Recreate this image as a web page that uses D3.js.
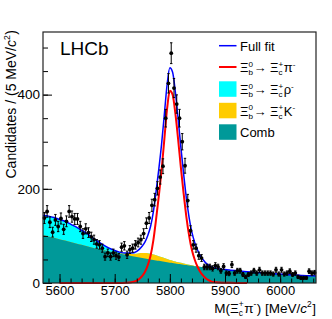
<!DOCTYPE html>
<html>
<head>
<meta charset="utf-8">
<script src="https://cdn.jsdelivr.net/npm/d3@7"></script>
<style>
  body { margin: 0; background: #fff; }
  text { font-family: "Liberation Sans", Arial, Helvetica, sans-serif; fill: #000; }
</style>
</head>
<body>
<div id="chart"></div>
<script>
// binned data, 5 MeV bins starting at 5570
const binStart = 5570;
const binWidth = 5;
const counts = [138,152,129,108,134,120,137,114,131,152,141,136,136,120,105,115,107,98,92,83,
  81,74,56,64,56,64,58,55,76,79,60,71,74,81,86,92,105,127,138,165,
  177,201,225,248,350,424,488,414,380,350,300,249,175,111,81,74,58,53,
  34,34,34,31,37,34,26,35,21,20,39,21,26,26,18,13,18,21,26,21,28,21,
  21,21,21,19,28,19,28,19,21,25,18,21,13,11,11,11,25,21,22];

// fit components, on a common mass grid
const fitMass = [5570,5580,5590,5600,5610,5620,5630,5640,5650,5660,5670,5680,5690,5700,5710,5720,5730,5740,
  5745,5750,5755,5760,5765,5770,5775,5780,5785,5790,5795,5800,5805,5810,5815,5820,5825,5830,5835,5840,
  5845,5850,5855,5860,5865,5870,5875,5880,
  5890,5900,5910,5920,5930,5940,5950,5960,5970,5980,5990,6000,6010,6020,6030,6040,6050,6065];
const combFit = [102,99,96,93,90,87,84,81,78,75,72,69.5,67,64.5,62,60,57.5,55,
  54,53,52,51,50,49,48,47,46,45,44,43,42.5,41.5,40.5,40,39,38,37,36.5,
  35.5,35,34,33.5,32.5,32,31,30.5,
  29,28,27,26,25,24,23,22,21,20.5,19.5,19,18,17.5,17,16,15.5,15];
const kFit = [0,0,0,0,0,0,0,0,0,0,0,0,0,0.5,1,2,4,7,
  9,10.5,11.5,12,12,11.5,11,10,9,8,7,6,5,4,3.5,3,2.5,2,1.5,1,
  0.8,0.6,0.4,0.3,0.2,0.1,0.1,0,
  0,0,0,0,0,0,0,0,0,0,0,0,0,0,0,0,0,0];
const rhoFit = [42,43,43,42,41,38,35,31,27,21,16,11,7,4,2,1,0.5,0.2,
  0,0,0,0,0,0,0,0,0,0,0,0,0,0,0,0,0,0,0,0,
  0,0,0,0,0,0,0,0,
  0,0,0,0,0,0,0,0,0,0,0,0,0,0,0,0,0,0];
const sigFit = [null,null,null,0,0,0,0,0,0,0,0,0,0,0,0,0.5,1.5,5,
  9,15,24,38,58,90,135,185,240,305,370,408,400,360,305,245,190,140,100,70,
  50,35,24,16,10,6,3.5,2,
  1,0.5,0.3,0.2,0.1,0.1,null,null,null,null,null,null,null,null,null,null,null,null];

const yTicks = [0, 200, 400];
const xTicks = [5600, 5700, 5800, 5900, 6000];

const legendItems = [
  { kind: "line", color: "#0000ff", parts: [{ t: "Full fit" }] },
  { kind: "line", color: "#ff0000", parts: [{ t: "Ξ" }, { sup: "0", sub: "b" }, { t: "→ Ξ" }, { sup: "+", sub: "c" }, { t: "π" }, { sup: "-" }] },
  { kind: "box", color: "#00ffff", parts: [{ t: "Ξ" }, { sup: "0", sub: "b" }, { t: "→ Ξ" }, { sup: "+", sub: "c" }, { t: "ρ" }, { sup: "-" }] },
  { kind: "box", color: "#ffcc00", parts: [{ t: "Ξ" }, { sup: "0", sub: "b" }, { t: "→ Ξ" }, { sup: "+", sub: "c" }, { t: "K" }, { sup: "-" }] },
  { kind: "box", color: "#009999", parts: [{ t: "Comb" }] }
];

const W = 332, H = 319;
const frame = { left: 43, right: 316, top: 32, bottom: 283 };

const svg = d3.select("#chart").append("svg")
  .attr("width", W)
  .attr("height", H);

const x = d3.scaleLinear().domain([5570, 6065]).range([frame.left, frame.right]);
const y = d3.scaleLinear().domain([0, 533]).range([frame.bottom, frame.top]);

// text with stacked super/subscripts, ROOT style
function rich(g, x0, y0, parts, size, anchor) {
  const t = g.append("text").style("font-size", size + "px");
  let cx = 0;
  parts.forEach(p => {
    if (p.t !== undefined) {
      const s = t.append("tspan").attr("x", cx).attr("y", y0).text(p.t);
      if (p.i) s.style("font-style", "italic");
      cx += s.node().getComputedTextLength();
    } else {
      let w = 0;
      if (p.sup) {
        const s = t.append("tspan").attr("x", cx).attr("y", y0 - size * 0.4)
          .style("font-size", (size * 0.62) + "px").text(p.sup);
        w = Math.max(w, s.node().getComputedTextLength());
      }
      if (p.sub) {
        const s = t.append("tspan").attr("x", cx).attr("y", y0 + size * 0.25)
          .style("font-size", (size * 0.62) + "px").text(p.sub);
        w = Math.max(w, s.node().getComputedTextLength());
      }
      cx += w + 0.5;
    }
  });
  const shift = anchor === "end" ? x0 - cx : x0;
  t.attr("transform", `translate(${shift},0)`);
  return t;
}

// stacked components
const grid = fitMass.map((m, i) => {
  const s = sigFit[i] == null ? 0 : sigFit[i];
  return {
    m: m,
    comb: combFit[i],
    k: combFit[i] + kFit[i],
    rho: combFit[i] + kFit[i] + rhoFit[i],
    sig: sigFit[i],
    total: combFit[i] + kFit[i] + rhoFit[i] + s
  };
});

const area = key => d3.area()
  .x(d => x(d.m))
  .y0(y(0))
  .y1(d => y(d[key]))
  .curve(d3.curveMonotoneX);

svg.append("path").datum(grid).attr("fill", "#00ffff").attr("d", area("rho"));
svg.append("path").datum(grid).attr("fill", "#ffcc00").attr("d", area("k"));
svg.append("path").datum(grid).attr("fill", "#009999").attr("d", area("comb"));

const sigLine = d3.line()
  .defined(d => d.sig != null)
  .x(d => x(d.m))
  .y(d => y(d.sig))
  .curve(d3.curveMonotoneX);

svg.append("path").datum(grid)
  .attr("fill", "none")
  .attr("stroke", "#ff0000")
  .attr("stroke-width", 2)
  .attr("d", sigLine);

const totLine = d3.line()
  .x(d => x(d.m))
  .y(d => y(d.total))
  .curve(d3.curveMonotoneX);

svg.append("path").datum(grid)
  .attr("fill", "none")
  .attr("stroke", "#0000ff")
  .attr("stroke-width", 1.5)
  .attr("d", totLine);

// data points with sqrt(N) errors
const pts = counts.map((n, i) => ({ m: binStart + binWidth * (i + 0.5), n: n }));
const pg = svg.append("g");
pts.forEach(d => {
  const cx = x(d.m), e = Math.sqrt(d.n);
  pg.append("line").attr("x1", cx).attr("x2", cx)
    .attr("y1", y(d.n - e)).attr("y2", y(d.n + e))
    .attr("stroke", "#000").attr("stroke-width", 1);
  [d.n - e, d.n + e].forEach(v => {
    pg.append("line").attr("x1", cx - 1.2).attr("x2", cx + 1.2)
      .attr("y1", y(v)).attr("y2", y(v))
      .attr("stroke", "#000").attr("stroke-width", 1);
  });
  pg.append("circle").attr("cx", cx).attr("cy", y(d.n)).attr("r", 1.9).attr("fill", "#000");
});

// axes, ticks pointing inside
svg.append("g")
  .attr("transform", `translate(0,${frame.bottom})`)
  .call(d3.axisBottom(x).tickValues(d3.range(5580, 6065, 20)).tickSize(-4.5).tickFormat(""))
  .call(g => g.select(".domain").remove());
const xa = svg.append("g")
  .attr("transform", `translate(0,${frame.bottom})`)
  .call(d3.axisBottom(x).tickValues(xTicks).tickSize(-9).tickPadding(3).tickFormat(d3.format("d")));
xa.select(".domain").remove();
xa.selectAll("text").style("font-size", "13px").style("font-family", "Liberation Sans, Arial, sans-serif");

svg.append("g")
  .attr("transform", `translate(${frame.left},0)`)
  .call(d3.axisLeft(y).tickValues(d3.range(50, 533, 50)).tickSize(-5).tickFormat(""))
  .call(g => g.select(".domain").remove());
const ya = svg.append("g")
  .attr("transform", `translate(${frame.left},0)`)
  .call(d3.axisLeft(y).tickValues(yTicks).tickSize(-9).tickPadding(3).tickFormat(d3.format("d")));
ya.select(".domain").remove();
ya.selectAll("text").style("font-size", "13.5px").style("font-family", "Liberation Sans, Arial, sans-serif");

svg.selectAll(".tick line").attr("stroke", "#000");

svg.append("rect")
  .attr("x", frame.left).attr("y", frame.top)
  .attr("width", frame.right - frame.left).attr("height", frame.bottom - frame.top)
  .attr("fill", "none").attr("stroke", "#222").attr("stroke-width", 1.2);

// LHCb label
svg.append("text").attr("x", 60).attr("y", 55).style("font-size", "19px").text("LHCb");

// axis titles
rich(svg, frame.right, 312.5, [{ t: "M(Ξ" }, { sup: "+", sub: "c" }, { t: "π" }, { sup: "-" }, { t: ") [MeV/" }, { t: "c", i: true }, { sup: "2" }, { t: "]" }], 13.5, "end");

const yt = svg.append("g").attr("transform", "translate(16,30) rotate(-90)");
rich(yt, 0, 0, [{ t: "Candidates / (5 MeV/" }, { t: "c", i: true }, { sup: "2" }, { t: ")" }], 14, "end");

// legend
const rowY = [45.7, 67, 89, 110.5, 132];
legendItems.forEach((d, i) => {
  if (d.kind === "line") {
    svg.append("line").attr("x1", 219).attr("x2", 236.5)
      .attr("y1", rowY[i]).attr("y2", rowY[i])
      .attr("stroke", d.color).attr("stroke-width", i === 0 ? 1.5 : 2);
  } else {
    svg.append("rect").attr("x", 219).attr("y", rowY[i] - 7.7)
      .attr("width", 17.5).attr("height", 15.5).attr("fill", d.color);
  }
  rich(svg, 240, rowY[i] + 5, d.parts, 13, "start");
});
</script>
</body>
</html>
